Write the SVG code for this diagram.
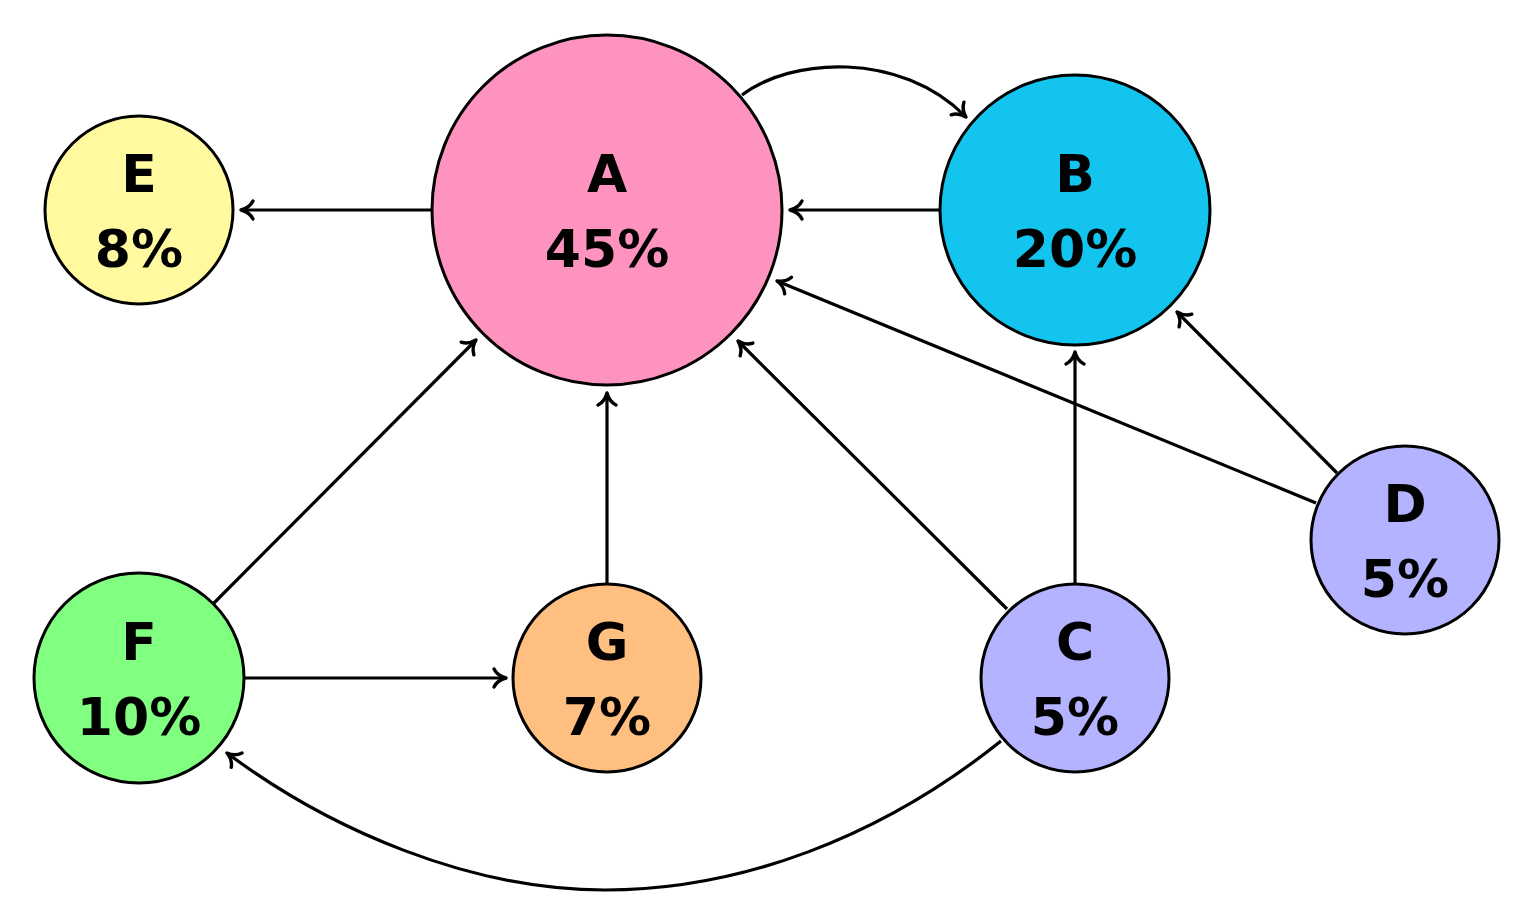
<svg xmlns="http://www.w3.org/2000/svg" width="1524" height="924" viewBox="0 0 1524 924">
<defs>
<marker id="arr" markerUnits="userSpaceOnUse" markerWidth="28" markerHeight="28" viewBox="-14 -14 28 28" refX="0" refY="0" orient="auto" overflow="visible">
<path d="M-12,-9 C-9.5,-4 -4,-1 0,0 C-4,1 -9.5,4 -12,9" fill="none" stroke="#000" stroke-width="3.4" stroke-linecap="round" stroke-linejoin="round"/>
</marker>
<style>
.n{stroke:#000;stroke-width:3}
.t{font-family:"DejaVu Sans",sans-serif;font-weight:bold;font-size:52px;text-anchor:middle;fill:#000}
.e{fill:none;stroke:#000;stroke-width:3.2;marker-end:url(#arr)}
</style>
</defs>
<rect width="1524" height="924" fill="#fff"/>
<g id="connectors">
<path class="e" d="M742,95 C790,58 900,50 966,117"/>
<path class="e" d="M940,210 L790,210"/>
<path class="e" d="M432,210 L241,210"/>
<path class="e" d="M1316,503 L777,281"/>
<path class="e" d="M1337,473 L1177,312"/>
<path class="e" d="M1007,609 L738,341"/>
<path class="e" d="M1075,583 L1075,352"/>
<path class="e" d="M607,583 L607,393"/>
<path class="e" d="M214,603 L476,340"/>
<path class="e" d="M244,678 L506,678"/>
<path class="e" d="M1001,741 C880,838 740,890 605,890 C470,890 330,830 227,753"/>
</g>
<g id="A"><circle class="n" cx="607" cy="210" r="175" fill="#FF93BF"/><text class="t" x="607" y="192">A</text><text class="t" x="607" y="267">45%</text></g>
<g id="B"><circle class="n" cx="1075" cy="210" r="135" fill="#12C4EE"/><text class="t" x="1075" y="192">B</text><text class="t" x="1075" y="267">20%</text></g>
<g id="E"><circle class="n" cx="139" cy="210" r="94" fill="#FFFAA0"/><text class="t" x="139" y="192">E</text><text class="t" x="139" y="267">8%</text></g>
<g id="F"><circle class="n" cx="139" cy="678" r="105" fill="#80FF80"/><text class="t" x="139" y="660">F</text><text class="t" x="139" y="735">10%</text></g>
<g id="G"><circle class="n" cx="607" cy="678" r="94" fill="#FFBF80"/><text class="t" x="607" y="660">G</text><text class="t" x="607" y="735">7%</text></g>
<g id="C"><circle class="n" cx="1075" cy="678" r="94" fill="#B3B3FF"/><text class="t" x="1075" y="660">C</text><text class="t" x="1075" y="735">5%</text></g>
<g id="D"><circle class="n" cx="1405" cy="540" r="94" fill="#B3B3FF"/><text class="t" x="1405" y="522">D</text><text class="t" x="1405" y="597">5%</text></g>
</svg>
